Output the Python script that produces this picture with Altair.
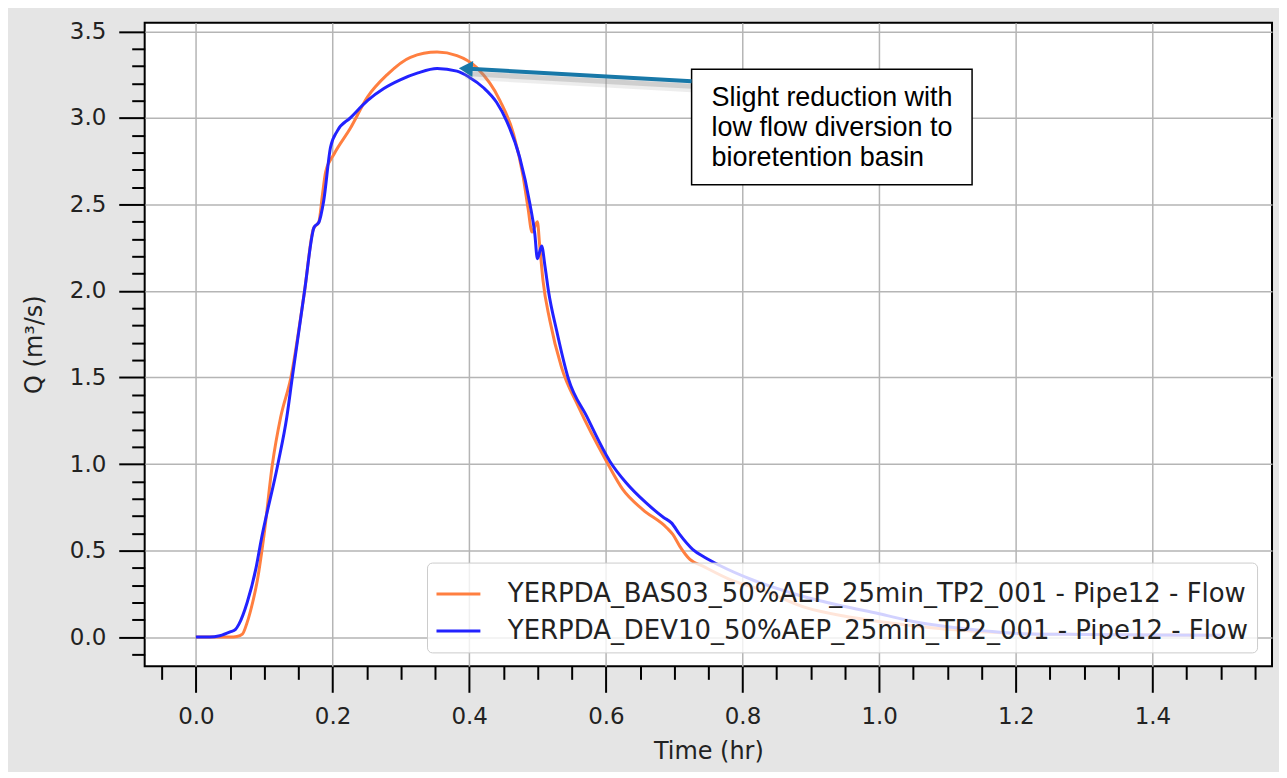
import altair as alt
import pandas as pd

# ---------------- data ----------------
series_names = [
    "YERPDA_BAS03_50%AEP_25min_TP2_001 - Pipe12 - Flow",
    "YERPDA_DEV10_50%AEP_25min_TP2_001 - Pipe12 - Flow",
]
series_colors = ["#ff7f40", "#2222ff"]

bas_t = [0.0, 0.03, 0.05, 0.06, 0.068, 0.075, 0.083, 0.09, 0.1, 0.112, 0.124, 0.139,
         0.159, 0.172, 0.18, 0.185, 0.19, 0.202, 0.226, 0.251, 0.28, 0.314, 0.353, 0.382,
         0.411, 0.445, 0.465, 0.479, 0.486, 0.492, 0.4998, 0.503, 0.508, 0.518, 0.535, 0.56,
         0.601, 0.625, 0.654, 0.689, 0.698, 0.708, 0.723, 0.742, 0.781, 0.83, 0.893, 0.95,
         1.0, 1.05, 1.1, 1.155, 1.206, 1.3, 1.4, 1.5]
bas_q = [0.0, 0.0, 0.0, 0.003, 0.017, 0.085, 0.2, 0.33, 0.6, 1.0, 1.27, 1.5,
         2.0, 2.36, 2.40, 2.55, 2.69, 2.79, 2.94, 3.12, 3.25, 3.35, 3.38, 3.36,
         3.29, 3.10, 2.905, 2.66, 2.48, 2.34, 2.40, 2.27, 2.06, 1.83, 1.56, 1.33,
         1.015, 0.852, 0.737, 0.632, 0.593, 0.526, 0.449, 0.41, 0.334, 0.27, 0.17, 0.12,
         0.09, 0.065, 0.045, 0.03, 0.02, 0.015, 0.012, 0.01]

dev_t = [0.0, 0.02, 0.035, 0.05, 0.058, 0.063, 0.075, 0.088, 0.095, 0.12, 0.133, 0.141,
         0.159, 0.173, 0.180, 0.187, 0.197, 0.207, 0.226, 0.251, 0.275, 0.299, 0.325, 0.353,
         0.382, 0.4, 0.421, 0.44, 0.455, 0.474, 0.489, 0.496, 0.4998, 0.506, 0.511, 0.516,
         0.528, 0.545, 0.572, 0.606, 0.63, 0.659, 0.685, 0.696, 0.708, 0.727, 0.745, 0.766,
         0.815, 0.88, 0.946, 1.0, 1.05, 1.1, 1.155, 1.206, 1.3, 1.4, 1.5]
dev_q = [0.0, 0.0, 0.008, 0.03, 0.045, 0.075, 0.2, 0.4, 0.55, 1.0, 1.27, 1.5,
         2.0, 2.368, 2.397, 2.52, 2.83, 2.925, 3.0, 3.10, 3.17, 3.22, 3.26, 3.285,
         3.27, 3.235, 3.174, 3.09, 2.98, 2.77, 2.50, 2.33, 2.186, 2.26, 2.14, 2.0,
         1.77, 1.495, 1.275, 1.015, 0.89, 0.775, 0.69, 0.66, 0.593, 0.507, 0.46, 0.415,
         0.33, 0.245, 0.18, 0.135, 0.09, 0.06, 0.036, 0.02, 0.015, 0.012, 0.01]

x_ticks = [-0.05, 0.0, 0.05, 0.1, 0.15, 0.2, 0.25, 0.3, 0.35, 0.4, 0.45, 0.5, 0.55, 0.6,
           0.65, 0.7, 0.75, 0.8, 0.85, 0.9, 0.95, 1.0, 1.05, 1.1, 1.15, 1.2, 1.25, 1.3,
           1.35, 1.4, 1.45, 1.5, 1.55]
y_ticks = [-0.1, 0.0, 0.1, 0.2, 0.3, 0.4, 0.5, 0.6, 0.7, 0.8, 0.9, 1.0, 1.1, 1.2, 1.3,
           1.4, 1.5, 1.6, 1.7, 1.8, 1.9, 2.0, 2.1, 2.2, 2.3, 2.4, 2.5, 2.6, 2.7, 2.8, 2.9,
           3.0, 3.1, 3.2, 3.3, 3.4, 3.5]

annot_lines = ["Slight reduction with", "low flow diversion to", "bioretention basin"]
annot_line_q = [3.115, 2.942, 2.769]

# ---------------- tables ----------------
rows = []
for i, (t, q) in enumerate(zip(bas_t, bas_q)):
    rows.append({"t": t, "q": q, "series": series_names[0], "idx": i})
for i, (t, q) in enumerate(zip(dev_t, dev_q)):
    rows.append({"t": t, "q": q, "series": series_names[1], "idx": i})
df = pd.DataFrame(rows)

xscale = alt.Scale(domain=[-0.075, 1.575], nice=False, zero=False)
yscale = alt.Scale(domain=[-0.169, 3.549], nice=False, zero=False)

font = "DejaVu Sans"
x_major = "abs(datum.value/0.2 - round(datum.value/0.2)) < 0.001"
y_major = "abs(datum.value/0.5 - round(datum.value/0.5)) < 0.001"

x_axis = alt.Axis(
    values=x_ticks, tickCount=500, title="Time (hr)",
    labelExpr=f"{x_major} ? format(datum.value, '.1f') : ''",
    tickSize={"condition": {"test": x_major, "value": 26}, "value": 13},
    gridOpacity={"condition": {"test": x_major, "value": 1}, "value": 0},
    grid=True, gridColor="#b5b5b5", gridWidth=1.5,
    tickColor="black", tickWidth=2, domain=False,
    labelFont=font, labelFontSize=23, labelColor="#222222", labelPadding=13,
    labelOverlap=False, labelFlush=False,
    titleFont=font, titleFontSize=24, titleFontWeight="normal", titleColor="#222222",
    titleX=565, titleY=85, titleBaseline="middle", titleAlign="center",
)
y_axis = alt.Axis(
    values=y_ticks, tickCount=500, title="Q (m³/s)",
    labelExpr=f"{y_major} ? format(datum.value, '.1f') : ''",
    tickSize={"condition": {"test": y_major, "value": 26}, "value": 13},
    gridOpacity={"condition": {"test": y_major, "value": 1}, "value": 0},
    grid=True, gridColor="#b5b5b5", gridWidth=1.5,
    tickColor="black", tickWidth=2, domain=False,
    labelFont=font, labelFontSize=23, labelColor="#222222", labelPadding=13,
    labelOverlap=False, labelFlush=False,
    titleFont=font, titleFontSize=24, titleFontWeight="normal", titleColor="#222222",
    titleX=-110, titleY=322, titleAngle=270, titleBaseline="middle", titleAlign="center",
)

lines = alt.Chart(df).mark_line(strokeWidth=3, interpolate="monotone", clip=True).encode(
    x=alt.X("t:Q", scale=xscale, axis=x_axis),
    y=alt.Y("q:Q", scale=yscale, axis=y_axis),
    color=alt.Color(
        "series:N",
        scale=alt.Scale(domain=series_names, range=series_colors),
        legend=alt.Legend(
            title=None, orient="none", legendX=283, legendY=541,
            fillColor="rgba(255,255,255,0.8)", strokeColor="#cccccc", cornerRadius=5,
            padding=8, symbolType="stroke", symbolStrokeWidth=3, symbolSize=1936,
            labelFont=font, labelFontSize=26, labelColor="#222222", labelOffset=26,
            rowPadding=-6, labelLimit=2000,
        ),
    ),
    order="idx:Q",
)

# ---------------- annotation ----------------
box_df = pd.DataFrame({"x1": [0.7255], "x2": [1.136], "y1": [3.2815], "y2": [2.614]})
box = alt.Chart(box_df).mark_rect(fill="white", stroke="black", strokeWidth=1.5).encode(
    x=alt.X("x1:Q", scale=xscale), x2="x2:Q",
    y=alt.Y("y1:Q", scale=yscale), y2="y2:Q",
)
text_df = pd.DataFrame({"label": annot_lines, "tx": [0.7547] * 3, "ty": annot_line_q})
text = alt.Chart(text_df).mark_text(
    align="left", baseline="middle", font="Liberation Sans", fontSize=27, color="black"
).encode(
    x=alt.X("tx:Q", scale=xscale), y=alt.Y("ty:Q", scale=yscale), text="label:N"
)

arrow_df = pd.DataFrame({"x1": [0.40], "y1": [3.2835], "x2": [0.7255], "y2": [3.212]})
arrow_color = "#1878a8"
shadow1 = alt.Chart(arrow_df).mark_rule(
    color="#9a9a9a", strokeWidth=10, opacity=0.18, yOffset=6, y2Offset=6, strokeCap="round"
).encode(x=alt.X("x1:Q", scale=xscale), y=alt.Y("y1:Q", scale=yscale), x2="x2:Q", y2="y2:Q")
shadow2 = alt.Chart(arrow_df).mark_rule(
    color="#8a8a8a", strokeWidth=5, opacity=0.3, yOffset=5, y2Offset=5
).encode(x=alt.X("x1:Q", scale=xscale), y=alt.Y("y1:Q", scale=yscale), x2="x2:Q", y2="y2:Q")
shaft = alt.Chart(arrow_df).mark_rule(color=arrow_color, strokeWidth=4).encode(
    x=alt.X("x1:Q", scale=xscale), y=alt.Y("y1:Q", scale=yscale), x2="x2:Q", y2="y2:Q"
)
head_df = pd.DataFrame({"hx": [0.395], "hy": [3.2845]})
head = alt.Chart(head_df).mark_point(
    shape="triangle-left", filled=True, size=260, color=arrow_color, opacity=1, angle=3
).encode(x=alt.X("hx:Q", scale=xscale), y=alt.Y("hy:Q", scale=yscale))

chart = alt.layer(lines, shadow1, shadow2, box, text, shaft, head).properties(
    width=1130, height=645,
    autosize=alt.AutoSizeParams(type="none"),
    padding={"left": 137, "top": 14, "right": 7, "bottom": 105},
    background="#e5e5e5",
).configure_view(stroke="black", strokeWidth=2, fill="white")

chart.save("out.html", embed_options={"renderer": "svg", "actions": False})
